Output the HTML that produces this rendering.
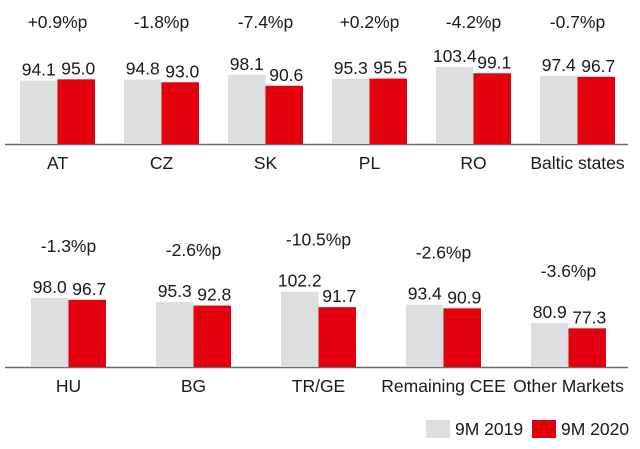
<!DOCTYPE html>
<html><head><meta charset="utf-8"><style>
html,body{margin:0;padding:0;background:#fff;}
svg{display:block;font-family:"Liberation Sans",Arial,sans-serif;}
</style></head><body>
<svg id="chart" width="640" height="449"></svg>
<script>
const row1Categories=["AT","CZ","SK","PL","RO","Baltic states"];
const row1Values2019=[94.1,94.8,98.1,95.3,103.4,97.4];
const row1Values2020=[95.0,93.0,90.6,95.5,99.1,96.7];
const row1Changes=["+0.9%p","-1.8%p","-7.4%p","+0.2%p","-4.2%p","-0.7%p"];
const row2Categories=["HU","BG","TR/GE","Remaining CEE","Other Markets"];
const row2Values2019=[98.0,95.3,102.2,93.4,80.9];
const row2Values2020=[96.7,92.8,91.7,90.9,77.3];
const row2Changes=["-1.3%p","-2.6%p","-10.5%p","-2.6%p","-3.6%p"];

const NS="http://www.w3.org/2000/svg";
const svg=document.getElementById("chart");
function mk(tag,attrs,txt){const e=document.createElementNS(NS,tag);for(const k in attrs)e.setAttribute(k,attrs[k]);if(txt!==undefined)e.textContent=txt;svg.appendChild(e);return e;}
function h(v){return Math.max(0,(v-51)*1.47);}
const BW=37.5, FS=17.5;
function drawRow(cats,v1,v2,chg,baseY,x0,step,fixedPctY,rowName){
  const ax=mk("line",{x1:5,x2:628,y1:baseY+0.5,y2:baseY+0.5,stroke:"#6b6b6b","stroke-width":1.5});
  
  
  cats.forEach((c,i)=>{
    const gx=x0+i*step;
    const t1=baseY-h(v1[i]), t2=baseY-h(v2[i]);
    const b1=mk("rect",{x:gx,y:t1,width:BW,height:h(v1[i]),fill:"#dcdedf"});
    
    
    const b2=mk("rect",{x:gx+BW,y:t2,width:BW,height:h(v2[i]),fill:"#e2000f"});
    
    
    const l1=mk("text",{x:gx+BW/2,y:t1-5,"text-anchor":"middle","font-size":FS,fill:"#1a1a1a"},v1[i].toFixed(1));
    
    
    const l2=mk("text",{x:gx+BW*1.5+2,y:t2-5,"text-anchor":"middle","font-size":FS,fill:"#1a1a1a"},v2[i].toFixed(1));
    
    
    const py=fixedPctY!==null?fixedPctY:Math.min(t1,t2)-52;
    const p=mk("text",{x:gx+BW,y:py+6,"text-anchor":"middle","font-size":FS,fill:"#1a1a1a"},chg[i]);
    
    
    const cl=mk("text",{x:gx+BW,y:baseY+25,"text-anchor":"middle","font-size":FS,fill:"#1a1a1a"},c);
    
    
  });
}
drawRow(row1Categories,row1Values2019,row1Values2020,row1Changes,144,20,104,22,"row1");
drawRow(row2Categories,row2Values2019,row2Values2020,row2Changes,367,31,125,null,"row2");
const lg1=mk("rect",{x:426,y:420,width:24,height:18,fill:"#dcdedf"});


const lt1=mk("text",{x:455,y:435,"font-size":FS,fill:"#1a1a1a"},"9M 2019");


const lg2=mk("rect",{x:532,y:420,width:24,height:18,fill:"#e2000f"});


const lt2=mk("text",{x:561,y:435,"font-size":FS,fill:"#1a1a1a"},"9M 2020");


</script>
</body></html>
